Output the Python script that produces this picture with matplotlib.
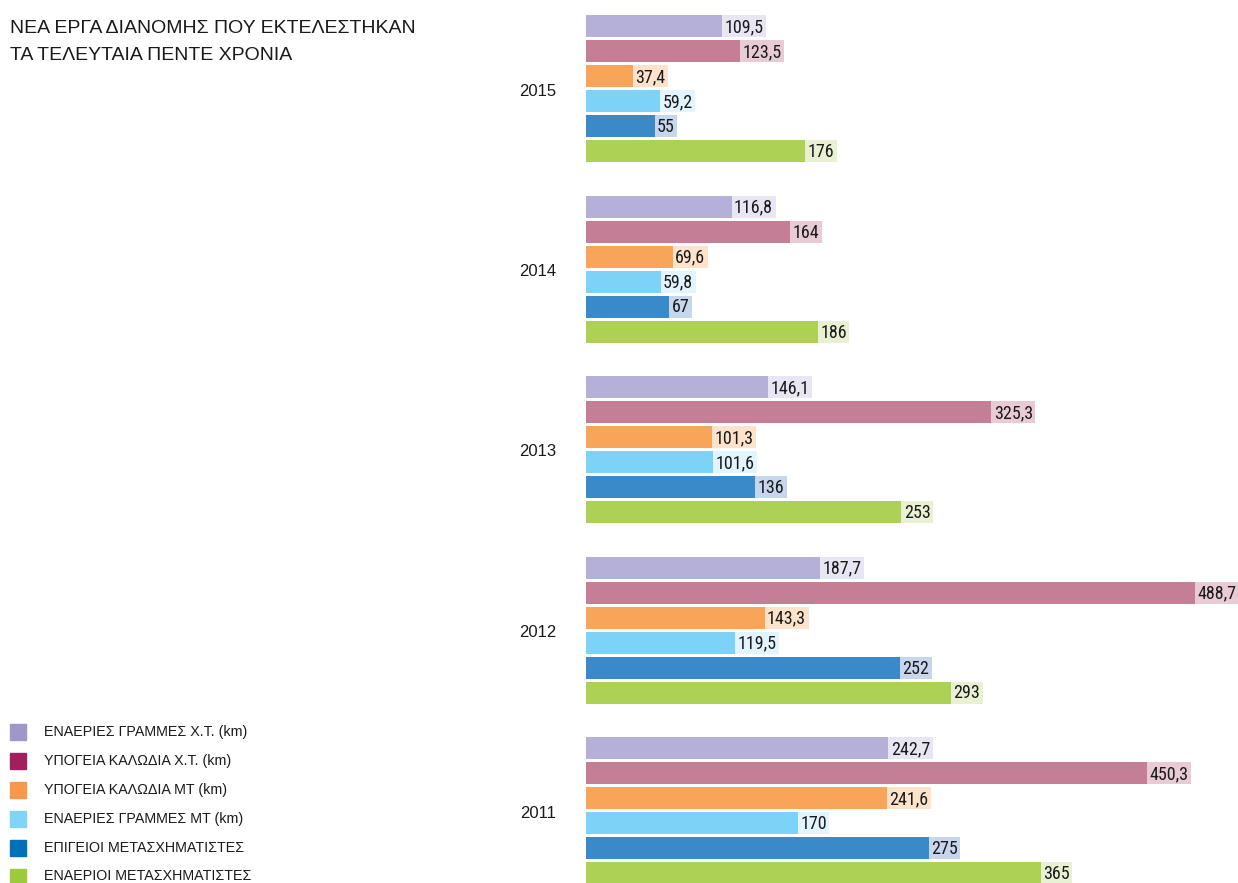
import matplotlib
matplotlib.use("Agg")
import matplotlib.pyplot as plt
from matplotlib import font_manager
from matplotlib.transforms import blended_transform_factory
from matplotlib.patches import Rectangle

years = ["2015", "2014", "2013", "2012", "2011"]
series = ["ΕΝΑΕΡΙΕΣ ΓΡΑΜΜΕΣ Χ.Τ. (km)", "ΥΠΟΓΕΙΑ ΚΑΛΩΔΙΑ Χ.Τ. (km)", "ΥΠΟΓΕΙΑ ΚΑΛΩΔΙΑ ΜΤ (km)",
          "ΕΝΑΕΡΙΕΣ ΓΡΑΜΜΕΣ ΜΤ (km)", "ΕΠΙΓΕΙΟΙ ΜΕΤΑΣΧΗΜΑΤΙΣΤΕΣ", "ΕΝΑΕΡΙΟΙ ΜΕΤΑΣΧΗΜΑΤΙΣΤΕΣ"]
v2015 = [109.5, 123.5, 37.4, 59.2, 55, 176]
v2014 = [116.8, 164, 69.6, 59.8, 67, 186]
v2013 = [146.1, 325.3, 101.3, 101.6, 136, 253]
v2012 = [187.7, 488.7, 143.3, 119.5, 252, 293]
v2011 = [242.7, 450.3, 241.6, 170, 275, 365]
values = [v2015, v2014, v2013, v2012, v2011]

bar_colors = ["#b5b0d8", "#c47f96", "#f8a55a", "#7dd3f7", "#3a89c9", "#acd155"]
box_colors = ["#e8e6f3", "#e8cbd4", "#fde3cc", "#e2f4fd", "#c6d6ec", "#e8f1d3"]
legend_colors = ["#9e97c8", "#a0205f", "#f7984a", "#7fd4f8", "#0070b8", "#9dc93c"]

# narrow font for the value labels if one is installed
installed = {f.name for f in font_manager.fontManager.ttflist}
narrow = None
for cand in ["Liberation Sans Narrow", "DejaVu Sans Condensed", "Roboto Condensed", "Open Sans Condensed"]:
    if cand in installed:
        narrow = cand
        break
if narrow:
    label_font = dict(family=[narrow, "DejaVu Sans"], size=13, color="#1a1a1a")
else:
    label_font = dict(family=["Liberation Sans", "DejaVu Sans"], size=11, color="#1a1a1a")

W, H = 1238, 883
fig = plt.figure(figsize=(W / 100, H / 100), dpi=100)
ax = fig.add_axes([586 / W, 0, (W - 586) / W, 1])
ax.set_xlim(0, (W - 586) / 1.246)
ax.set_ylim(H, 0)
ax.axis("off")

renderer = fig.canvas.get_renderer()
px = ax.get_xlim()[1] / (W - 586)  # data units per pixel
yr_tr = blended_transform_factory(fig.transFigure, ax.transData)

for g, vals in enumerate(values):
    top = 15 + g * 180.5
    for i, v in enumerate(vals):
        y = top + i * 25 + 11
        ax.barh(y, v, height=22, color=bar_colors[i], left=0)
        lab = str(v).replace(".", ",") if v != int(v) else str(int(v))
        t = ax.text(v + 2.5 * px, y + 1, lab, va="center", ha="left", zorder=3, **label_font)
        tw = t.get_window_extent(renderer).width
        ax.add_patch(Rectangle((v, y - 11), (tw + 5) * px, 22, color=box_colors[i], zorder=2, lw=0))
    ax.text(538 / W, top + 76, years[g], transform=yr_tr, ha="center", va="center",
            family=["Liberation Sans", "DejaVu Sans"], size=12, color="#1a1a1a")

fig.text(10 / W, 1 - 33 / H, "ΝΕΑ ΕΡΓΑ ΔΙΑΝΟΜΗΣ ΠΟΥ ΕΚΤΕΛΕΣΤΗΚΑΝ", family=["Liberation Sans", "DejaVu Sans"],
         size=14, color="#1a1a1a", va="baseline")
fig.text(10 / W, 1 - 60 / H, "ΤΑ ΤΕΛΕΥΤΑΙΑ ΠΕΝΤΕ ΧΡΟΝΙΑ", family=["Liberation Sans", "DejaVu Sans"],
         size=14, color="#1a1a1a", va="baseline")

for i, name in enumerate(series):
    yc = 732 + i * 28.9
    fig.patches.append(Rectangle((10 / W, 1 - (yc + 8) / H), 16 / W, 16 / H, color=legend_colors[i],
                                 transform=fig.transFigure, figure=fig))
    fig.text(44 / W, 1 - yc / H, name, family=["Liberation Sans", "DejaVu Sans"], size=10.3,
             color="#1a1a1a", va="center")

fig.savefig("out.png", dpi=100)
